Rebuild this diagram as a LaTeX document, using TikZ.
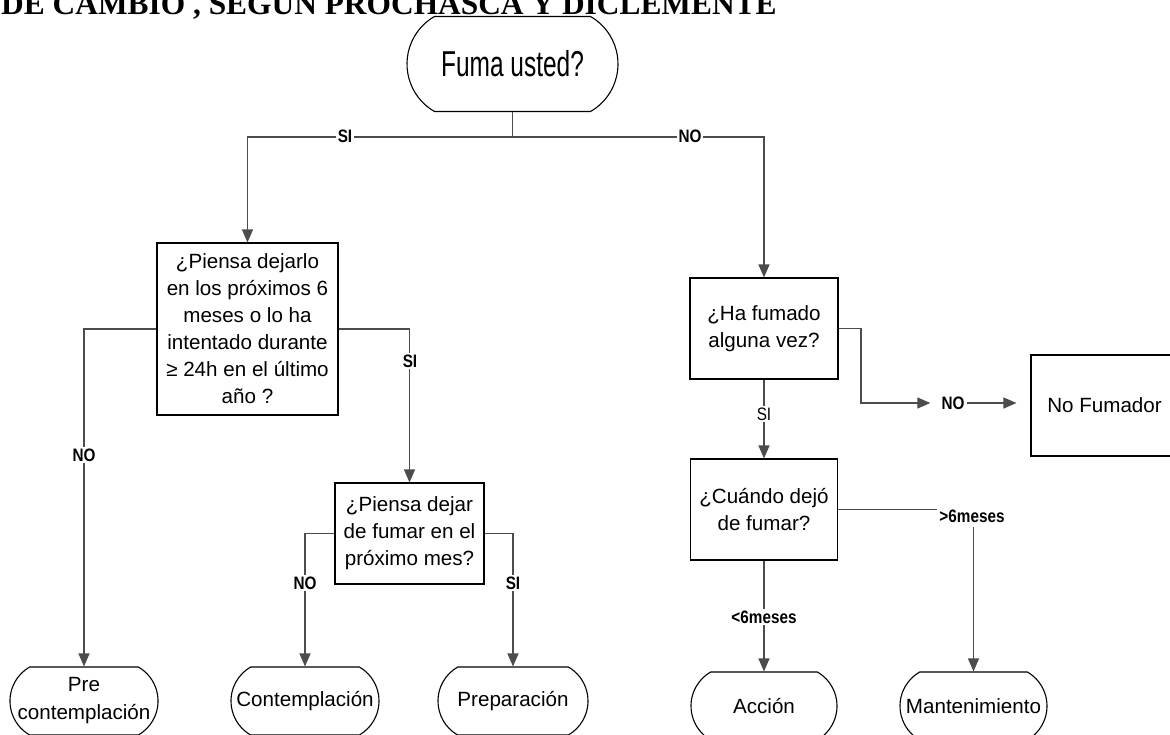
\documentclass[tikz,border=0pt]{standalone}
\usepackage{fontspec}
\setmainfont{Liberation Sans}
\newfontfamily\ttlfont{Liberation Serif}
\newfontfamily\fumafont[FakeStretch=0.68]{Liberation Sans}
\newfontfamily\lblfont[FakeStretch=0.85]{Liberation Sans}
\usetikzlibrary{arrows.meta,shapes.misc}
\begin{document}
\begin{tikzpicture}[x=1pt,y=-1pt,
  box/.style={draw=black, line width=1.1pt, rectangle, align=center, font=\fontsize{20.6}{27}\selectfont, inner sep=0pt},
  term/.style={draw=black, line width=1.1pt, rounded rectangle, rounded rectangle arc length=120, align=center, font=\fontsize{20.6}{28}\selectfont, inner sep=0pt},
  conn/.style={draw=black!70, line width=1.2pt},
  arr/.style={conn, -{Triangle[width=11pt,length=13pt]}},
  lbl/.style={fill=white, inner sep=2pt, font=\lblfont\bfseries\fontsize{18}{18}\selectfont},
  lblplain/.style={fill=white, inner sep=2pt, font=\lblfont\fontsize{18}{18}\selectfont}
]
\useasboundingbox (0,0) rectangle (1170,735);

\node[anchor=base west, inner sep=0pt, font=\ttlfont\bfseries\fontsize{31.4}{34}\selectfont] (title) at (1,15) {DE CAMBIO , SEGUN PROCHASCA Y DICLEMENTE};

\node[term, minimum width=211pt, minimum height=95pt, font=\fumafont\fontsize{36}{40}\selectfont] (fuma) at (512.5,64) {Fuma usted?};

\node[box, minimum width=181pt, minimum height=172pt] (q1) at (247.5,329) {¿Piensa dejarlo\\en los próximos 6\\meses o lo ha\\intentado durante\\≥ 24h en el último\\año ?};
\node[box, minimum width=149pt, minimum height=101pt] (q2) at (409.5,533.5) {¿Piensa dejar\\de fumar en el\\próximo mes?};
\node[box, minimum width=148pt, minimum height=101pt] (q3) at (764,328.5) {¿Ha fumado\\alguna vez?};
\node[box, minimum width=147pt, minimum height=101pt] (q4) at (764,509.5) {¿Cuándo dejó\\de fumar?};
\node[box, minimum width=147pt, minimum height=101pt] (nofum) at (1104.5,405.5) {No Fumador};

\node[term, minimum width=148pt, minimum height=68pt] (pre) at (84,701) {Pre\\contemplación};
\node[term, minimum width=148pt, minimum height=68pt] (cont) at (305,701) {Contemplación};
\node[term, minimum width=150pt, minimum height=68pt] (prep) at (513,701) {Preparación};
\node[term, minimum width=146pt, minimum height=68pt] (acc) at (764,706) {Acción};
\node[term, minimum width=147pt, minimum height=68pt] (mant) at (973.5,706) {Mantenimiento};

% top branch
\draw[conn] (fuma.south) -- ++(0,25) coordinate (j);
\draw[arr] (j) -| (q1.north);
\draw[arr] (j) -| (q3.north);
\node[lbl] (siA) at (345,136) {SI};
\node[lbl] (noA) at (690,136) {NO};

% q1 branches
\draw[arr] (q1.west) -| (pre.north);
\draw[arr] (q1.east) -| (q2.north);
\node[lbl] (noB) at (84,455) {NO};
\node[lbl] (siB) at (410,361) {SI};

% q2 branches
\draw[arr] (q2.west) -| (cont.north);
\draw[arr] (q2.east) -| (prep.north);
\node[lbl] (noC) at (305,583) {NO};
\node[lbl] (siC) at (513,583) {SI};

% q3 branches
\coordinate (c1) at (861,403);
\node[lbl] (noD) at (953,403) {NO};
\draw[arr, shorten >=9pt] (q3.east) -| (c1) -- (noD.west);
\draw[arr, shorten >=14pt] (noD.east) -- (noD.east -| nofum.west);
\draw[arr] (q3.south) -- (q4.north);
\node[lblplain] (siD) at (764,414) {SI};

% q4 branches
\draw[arr] (q4.south) -- (acc.north);
\node[lbl] (lt6) at (764,617) {<6meses};
\draw[arr] (q4.east) -| (mant.north);
\node[lbl, inner ysep=5pt] (gt6) at (972,516) {>6meses};
\end{tikzpicture}
\end{document}
